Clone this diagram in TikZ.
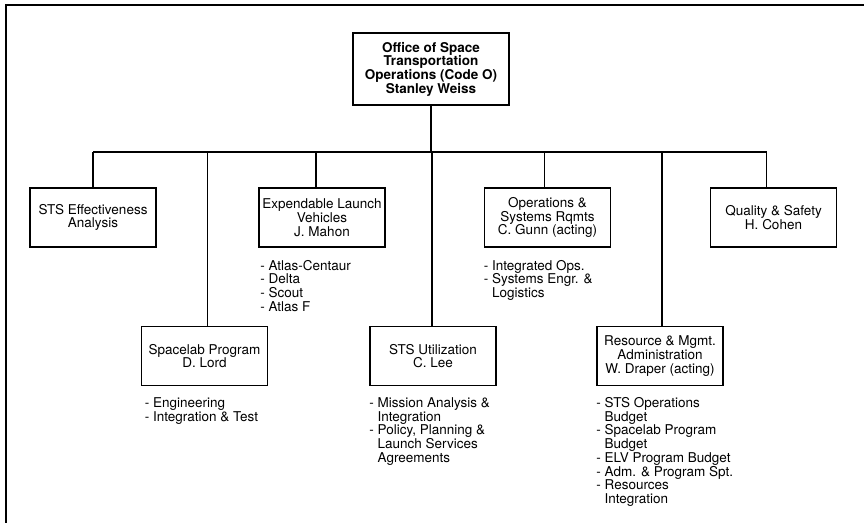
\documentclass[tikz,border=0pt]{standalone}
\usepackage{fontspec}
\setmainfont{TeX Gyre Heros}
\usetikzlibrary{positioning}
\tikzset{
  unit/.style={draw, line width=1.6pt, align=center, minimum width=126pt, minimum height=59pt, inner sep=2pt, font=\fontsize{13.5}{13.7}\selectfont},
  head/.style={unit, minimum width=156pt, minimum height=72pt, font=\fontsize{13.5}{13.7}\selectfont\bfseries},
  duties/.style={align=left, inner sep=0pt, anchor=north west, font=\fontsize{13.5}{13.7}\selectfont},
  link/.style={line width=1.5pt}
}
\newcommand{\cont}{\hphantom{-~}}

\begin{document}
\begin{tikzpicture}[x=1pt, y=-1pt]
\useasboundingbox (0,0) rectangle (864,523);
% frame
\draw[line width=2pt] (864,5) -- (6,5) -- (6,523);
% head office
\node[head] (office) at (431,69) {Office of Space\\Transportation\\Operations (Code O)\\Stanley Weiss};
\coordinate (bus) at (431,152);
% upper row
\node[unit] (eff) at (93,217.5) {STS Effectiveness\\Analysis};
\node[unit] (elv) at (322,217.5) {Expendable Launch\\Vehicles\\J. Mahon};
\node[unit] (ops) at (547.5,217.5) {Operations \&\\Systems Rqmts\\C. Gunn (acting)};
\node[unit] (quality) at (773.5,217.5) {Quality \& Safety\\H. Cohen};
% lower row
\node[unit] (spacelab) at (204.5,356) {Spacelab Program\\D. Lord};
\node[unit] (util) at (433,356) {STS Utilization\\C. Lee};
\node[unit] (resource) at (660,356) {Resource \& Mgmt.\\Administration\\W. Draper (acting)};
% duties
\node[duties] (elvlist) at ([shift={(2pt,-12pt)}]elv.south west) {- Atlas-Centaur\\- Delta\\- Scout\\- Atlas F};
\node[duties] (opslist) at ([shift={(0pt,-12pt)}]ops.south west) {- Integrated Ops.\\- Systems Engr. \&\\\cont Logistics};
\node[duties] (spacelablist) at ([shift={(4pt,-11pt)}]spacelab.south west) {- Engineering\\- Integration \& Test};
\node[duties] (utillist) at ([shift={(0pt,-11pt)}]util.south west) {- Mission Analysis \&\\\cont Integration\\- Policy, Planning \&\\\cont Launch Services\\\cont Agreements};
\node[duties] (resourcelist) at ([shift={(0pt,-11pt)}]resource.south west) {- STS Operations\\\cont Budget\\- Spacelab Program\\\cont Budget\\- ELV Program Budget\\- Adm. \& Program Spt.\\- Resources\\\cont Integration};
% connectors
\draw[link] (office.south) -- (bus);
\draw[link] (eff.north |- bus) -- ([xshift=-7pt]quality.north |- bus);
\draw[link] (eff.north) -- (eff.north |- bus);
\draw[link] ([xshift=-6pt]elv.north) -- ([xshift=-6pt]elv.north |- bus);
\draw[link] ([xshift=-3pt]ops.north) -- ([xshift=-3pt]ops.north |- bus);
\draw[link] ([xshift=-7pt]quality.north) -- ([xshift=-7pt]quality.north |- bus);
\draw[link] ([xshift=3pt]spacelab.north) -- ([xshift=3pt]spacelab.north |- bus);
\draw[link] ([xshift=-1pt]util.north) -- ([xshift=-1pt]util.north |- bus);
\draw[link] ([xshift=2pt]resource.north) -- ([xshift=2pt]resource.north |- bus);
\end{tikzpicture}
\end{document}
